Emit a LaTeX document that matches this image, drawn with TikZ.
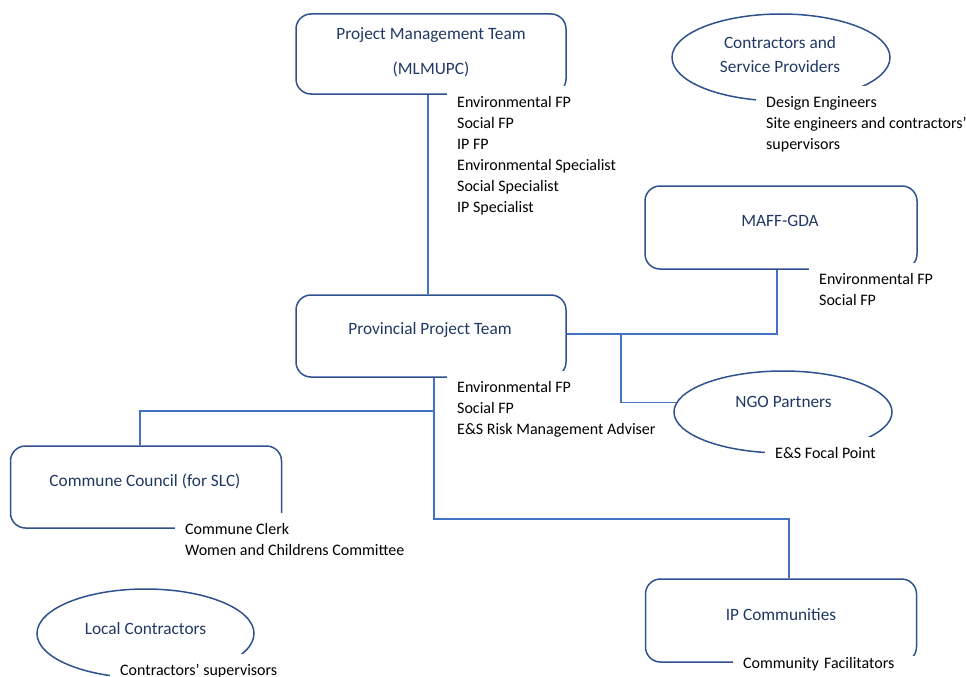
\documentclass[tikz,border=0pt]{standalone}
\usepackage{fontspec}
\setmainfont{Carlito}
\usetikzlibrary{shapes.geometric}
\definecolor{boxline}{HTML}{2F528F}
\definecolor{linkline}{HTML}{4472C4}
\definecolor{titlecol}{HTML}{203864}

\begin{document}
\begin{tikzpicture}
        [
            x = 1pt, y = -1pt,
            box/.style={draw=boxline, line width=1.5pt, rounded corners=15pt, minimum width=270pt, minimum height=82pt},
            oval/.style={draw=boxline, line width=1.5pt, ellipse, minimum width=218pt, minimum height=86pt},
            title/.style={text=titlecol, align=center, font=\fontsize{17.3}{24}\selectfont},
            roles/.style={anchor=north west, fill=white, inner xsep=10pt, inner ysep=10pt, align=left, font=\fontsize{16}{21}\selectfont},
            link/.style={draw=linkline, line width=1.5pt},
        ]
        \useasboundingbox (0,0) rectangle (966,677);

        % boxes and ovals
        \node[box, minimum height=80pt] (pmt) at (431,54) {};
        \node[box] (ppt) at (431,336) {};
        \node[box, minimum width=272pt, minimum height=83pt] (maff) at (781,227.5) {};
        \node[box, minimum width=271pt] (cc) at (146,487) {};
        \node[box, minimum width=271pt, minimum height=83pt] (ipc) at (781,620.5) {};
        \node[oval, minimum height=87pt] (csp) at (781,57.5) {};
        \node[oval, minimum height=82pt] (ngo) at (783,412) {};
        \node[oval, minimum width=217pt, minimum height=89pt] (lc) at (145.5,633.5) {};

        % role lists
        \node[roles] (pmt-r) at (447,86) {Environmental FP\\Social FP\\IP FP\\Environmental Specialist\\Social Specialist\\IP Specialist};
        \node[roles] (ppt-r) at (447,371) {Environmental FP\\Social FP\\E\&S Risk Management Adviser};
        \node[roles] (maff-r) at (809,263) {Environmental FP\\Social FP};
        \node[roles] (csp-r) at (756,86) {Design Engineers\\Site engineers and contractors'\\supervisors};
        \node[roles] (ngo-r) at (765,437) {E\&S Focal Point};
        \node[roles] (cc-r) at (175,513) {Commune Clerk\\Women and Childrens Committee};
        \node[roles] (lc-r) at (110,654) {Contractors' supervisors};
        \node[roles, inner ysep=1pt, text width=170pt] (ipc-r) at (733,656) {Community Facilitators};

        % connectors
        \draw[link] ([xshift=-3pt]pmt.south) -- ([xshift=-3pt]ppt.north);
        \draw[link] ([xshift=3pt]ppt.south) -- ++(0,141) -| ([xshift=8pt]ipc.north);
        \draw[link] ([xshift=3pt]ppt.south) ++(0,33) -| ([xshift=-6pt]cc.north);
        \draw[link] ([xshift=-4pt]maff.south) |- ([yshift=2pt]ppt.east);
        \draw[link] (ngo.175) -| ([xshift=54pt, yshift=2pt]ppt.east);

        % titles
        \node[title] (pmt-t) at (431,52.5) {Project Management Team\\[11pt](MLMUPC)};
        \node[title] (ppt-t) at (430,330) {Provincial Project Team};
        \node[title] (maff-t) at (780,221) {MAFF-GDA};
        \node[title] (cc-t) at (145,481.5) {Commune Council (for SLC)};
        \node[title] (ipc-t) at (781,615) {IP Communities};
        \node[title] (csp-t) at (780,55) {Contractors and\\Service Providers};
        \node[title] (ngo-t) at (783.5,402) {NGO Partners};
        \node[title] (lc-t) at (145.5,629) {Local Contractors};
\end{tikzpicture}
\end{document}
